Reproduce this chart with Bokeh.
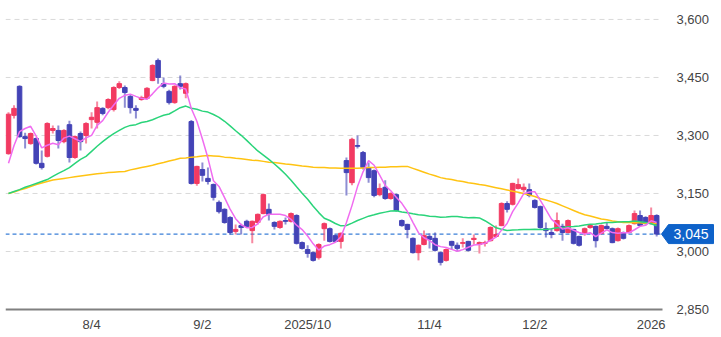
import numpy as np
import pandas as pd
from bokeh.plotting import figure
from bokeh.models import ColumnDataSource, Range1d
from bokeh.core.properties import value
from bokeh.embed import file_html
from bokeh.resources import INLINE

# ---------------- data ----------------
holidays = ["2025-07-21", "2025-08-11", "2025-09-15", "2025-09-23", "2025-10-13",
            "2025-11-03", "2025-11-24", "2025-12-31", "2026-01-01", "2026-01-02"]
dates = [d for d in pd.bdate_range("2025-07-11", "2026-01-06")
         if d.strftime("%Y-%m-%d") not in holidays]

opens = [3253, 3352, 3427, 3297, 3279, 3292, 3228, 3246, 3313, 3313,
         3284, 3328, 3243, 3305, 3300, 3341, 3334, 3370, 3372, 3367,
         3424, 3424, 3401, 3370, 3393, 3396, 3442, 3494, 3434, 3414,
         3385, 3434, 3409, 3336, 3176, 3212, 3189, 3173, 3127, 3109,
         3088, 3052, 3067, 3078, 3054, 3075, 3098, 3109, 3075, 3062,
         3080, 3078, 3093, 3023, 3005, 2997, 2984, 3059, 3059, 3041,
         3026, 3235, 3178, 3274, 3256, 3217, 3209, 3147, 3166, 3137,
         3147, 3080, 3070, 3034, 2997, 3018, 3039, 3034, 2997, 2977,
         3026, 3016, 3021, 3026, 3031, 3018, 3021, 3028, 3039, 3067,
         3124, 3122, 3163, 3160, 3160, 3132, 3116, 3059, 3049, 3054,
         3065, 3049, 3057, 3039, 3047, 3062, 3065, 3047, 3065, 3059,
         3028, 3049, 3049, 3072, 3093, 3088, 3072, 3093]
highs = [3360, 3378, 3430, 3307, 3308, 3295, 3261, 3334, 3326, 3326,
         3316, 3338, 3300, 3310, 3334, 3360, 3388, 3373, 3396, 3427,
         3440, 3429, 3406, 3378, 3403, 3425, 3484, 3499, 3450, 3418,
         3430, 3455, 3437, 3340, 3222, 3230, 3217, 3176, 3132, 3112,
         3091, 3070, 3072, 3082, 3080, 3098, 3150, 3124, 3078, 3080,
         3088, 3101, 3096, 3026, 3016, 3000, 3021, 3075, 3062, 3044,
         3049, 3243, 3294, 3300, 3260, 3230, 3212, 3176, 3184, 3153,
         3150, 3083, 3072, 3036, 3018, 3054, 3047, 3049, 3000, 3008,
         3028, 3023, 3034, 3028, 3044, 3026, 3028, 3065, 3067, 3127,
         3130, 3178, 3189, 3176, 3176, 3135, 3119, 3075, 3059, 3101,
         3072, 3083, 3059, 3041, 3062, 3070, 3067, 3070, 3075, 3062,
         3062, 3052, 3070, 3106, 3106, 3091, 3114, 3096]
lows = [3250, 3344, 3294, 3266, 3276, 3225, 3212, 3243, 3305, 3266,
        3280, 3230, 3240, 3261, 3279, 3318, 3318, 3352, 3368, 3362,
        3420, 3372, 3357, 3344, 3390, 3393, 3440, 3434, 3422, 3380,
        3382, 3419, 3396, 3173, 3170, 3181, 3173, 3132, 3098, 3072,
        3044, 3044, 3044, 3062, 3021, 3070, 3096, 3080, 3057, 3059,
        3070, 3075, 3018, 3005, 2984, 2974, 2979, 3028, 3023, 3023,
        3008, 3145, 3171, 3266, 3212, 3178, 3140, 3143, 3134, 3134,
        3103, 3064, 3034, 2995, 2977, 3016, 3008, 3000, 2964, 2974,
        3005, 3000, 3010, 3000, 3018, 2995, 3013, 3026, 3036, 3065,
        3101, 3119, 3160, 3153, 3140, 3111, 3059, 3036, 3034, 3052,
        3028, 3047, 3018, 3013, 3041, 3059, 3010, 3044, 3057, 3021,
        3026, 3031, 3047, 3070, 3065, 3070, 3070, 3039]
closes = [3355, 3370, 3297, 3292, 3305, 3228, 3217, 3331, 3318, 3287,
          3313, 3243, 3297, 3284, 3331, 3347, 3372, 3357, 3393, 3424,
          3434, 3411, 3372, 3365, 3398, 3422, 3481, 3450, 3427, 3385,
          3427, 3427, 3434, 3176, 3220, 3197, 3181, 3140, 3103, 3075,
          3049, 3057, 3062, 3065, 3078, 3096, 3147, 3096, 3065, 3078,
          3078, 3098, 3021, 3008, 2995, 2977, 3018, 3072, 3026, 3026,
          3047, 3204, 3290, 3272, 3217, 3191, 3145, 3163, 3137, 3150,
          3106, 3067, 3057, 2997, 3016, 3041, 3031, 3003, 2972, 3005,
          3016, 3008, 3023, 3003, 3034, 3023, 3023, 3062, 3044, 3124,
          3109, 3176, 3173, 3166, 3145, 3114, 3062, 3054, 3044, 3080,
          3049, 3080, 3021, 3016, 3059, 3067, 3028, 3067, 3059, 3023,
          3059, 3034, 3067, 3098, 3067, 3072, 3093, 3045]

ma5_head = [3228, 3274, 3310, 3318]
ma25_head = [3150, 3155, 3160, 3166, 3171, 3176, 3181, 3186, 3194, 3202,
             3209, 3217, 3228, 3238, 3246, 3259, 3272, 3284, 3295, 3305,
             3313, 3321, 3326, 3328]
ma75 = [3150, 3154, 3159, 3163, 3168, 3173, 3177, 3181, 3185, 3187,
        3189, 3191, 3193, 3195, 3197, 3199, 3201, 3202, 3204, 3205,
        3206, 3207, 3211, 3214, 3217, 3220, 3223, 3227, 3230, 3234,
        3237, 3241, 3242, 3244, 3245, 3247, 3248, 3247, 3246, 3244,
        3243, 3241, 3240, 3238, 3236, 3235, 3233, 3231, 3230, 3228,
        3226, 3225, 3223, 3221, 3220, 3218, 3217, 3217, 3216, 3216,
        3215, 3215, 3215, 3215, 3216, 3217, 3217, 3218, 3218, 3219,
        3219, 3220, 3220, 3215, 3210, 3205, 3200, 3196, 3191, 3188,
        3186, 3183, 3181, 3178, 3176, 3173, 3171, 3168, 3165, 3162,
        3159, 3156, 3153, 3150, 3146, 3142, 3137, 3133, 3129, 3124,
        3118, 3112, 3106, 3100, 3095, 3092, 3088, 3084, 3082, 3079,
        3077, 3075, 3075, 3074, 3074, 3073, 3073, 3072]

tick_dates = ["2025-08-04", "2025-09-02", "2025-10-01", "2025-11-04", "2025-12-02", "2026-01-05"]
tick_labels = ["8/4", "9/2", "2025/10", "11/4", "12/2", "2026"]
y_ticks = [2850, 3000, 3150, 3300, 3450, 3600]

# ---------------- derived ----------------
n = len(closes)
idx = np.arange(n)
o = np.array(opens, float)
c = np.array(closes, float)
h = np.array(highs, float)
l = np.array(lows, float)
up = c >= o

close_s = pd.Series(c)
ma5 = close_s.rolling(5).mean().to_numpy()
ma5[:len(ma5_head)] = ma5_head
ma25 = close_s.rolling(25).mean().to_numpy()
ma25[:len(ma25_head)] = ma25_head

date_str = [d.strftime("%Y-%m-%d") for d in dates]
tick_pos = [date_str.index(t) for t in tick_dates]

RED = "#f23a62"
BLUE = "#4343b6"
colors = [RED if u else BLUE for u in up]

src = ColumnDataSource(dict(x=idx, top=np.maximum(o, c), bottom=np.minimum(o, c),
                            high=h, low=l, color=colors))

# ---------------- layout geometry ----------------
W, H = 721, 337
BL = 5
chart_w = 657          # pixel width of the candle area
chart_h = 309          # pixel height from 2850 up to the top
x0 = -0.54
xc = n - 1 + 1.05      # right edge of candle area (data units)
ux = (xc - x0) / chart_w
y_lo, y_hi = y_ticks[0], 3649
uy = (y_hi - y_lo) / chart_h
frame_w = W - BL
frame_h = H
x1 = x0 + frame_w * ux
y0 = y_hi - frame_h * uy

p = figure(width=W, height=H, output_backend="svg", toolbar_location=None,
           x_range=Range1d(x0, x1), y_range=Range1d(y0, y_hi),
           x_axis_location=None, y_axis_location=None,
           min_border_left=BL, min_border_right=0,
           min_border_top=0, min_border_bottom=0)
p.outline_line_color = None
p.background_fill_color = "white"
p.border_fill_color = "white"
p.xgrid.visible = False
p.ygrid.visible = False

# horizontal grid lines (dashed) over the candle area
grid_y = y_ticks[1:]
p.segment(x0=[x0] * len(grid_y), y0=grid_y, x1=[xc] * len(grid_y), y1=grid_y,
          line_color="#d9d9d9", line_dash="5 4", line_width=1)
# bottom baseline
p.segment(x0=[x0], y0=[y_lo], x1=[xc], y1=[y_lo],
          line_color="#808080", line_width=2)

# y tick labels on the right
p.text(x=[xc + 14 * ux] * len(y_ticks), y=y_ticks,
       text=[f"{v:,}" for v in y_ticks], text_font=value("Liberation Sans"),
       text_font_size="13px", text_color="#444444", text_align="left",
       text_baseline="middle")

# x tick labels under the baseline
p.text(x=tick_pos, y=[y_lo - 15 * uy] * len(tick_pos), text=tick_labels,
       text_font=value("Liberation Sans"), text_font_size="13px",
       text_color="#444444", text_align="center", text_baseline="middle")

# current price dashed line
last = c[-1]
p.segment(x0=[x0], y0=[last], x1=[xc], y1=[last], line_color="#3a7fd8",
          line_dash="4 3", line_width=1.2)

# candles
p.segment(x0="x", y0="high", x1="x", y1="low", source=src, line_color="color",
          line_width=2, line_alpha=0.6)
p.vbar(x="x", top="top", bottom="bottom", width=0.82, source=src,
       fill_color="color", line_color="color", line_width=1)

# moving averages
p.line(idx, ma75, line_color="#ffc312", line_width=1.5)
p.line(idx, ma25, line_color="#2ad47a", line_width=1.5)
p.line(idx, ma5, line_color="#f06cf0", line_width=1.5)

# last-price tag
tip_x = xc - 1 * ux
bl_x = xc + 6 * ux
br_x = xc + 51 * ux
hh = 9.5 * uy
p.patch(x=[tip_x, bl_x, br_x, br_x, bl_x],
        y=[last, last + hh, last + hh, last - hh, last - hh],
        fill_color="#0e62c9", line_color="#0e62c9", line_width=1)
p.text(x=[(bl_x + br_x) / 2], y=[last], text=[f"{int(last):,}"],
       text_color="white", text_font=value("Liberation Sans"),
       text_font_size="14px", text_align="center", text_baseline="middle")

open("out.html", "w").write(file_html(p, INLINE))
